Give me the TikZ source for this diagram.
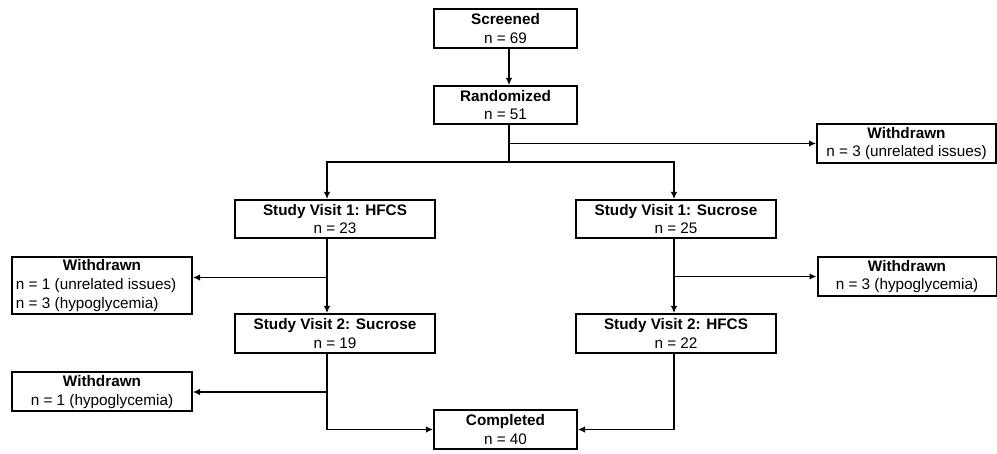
\documentclass[tikz,border=0pt]{standalone}
\usepackage{fontspec}
\setmainfont{Liberation Sans}
\usetikzlibrary{arrows.meta}
\tikzset{
  box/.style={draw, line width=2pt, inner sep=0pt, align=center,
    font=\fontsize{15.3}{18.8}\selectfont, minimum height=39pt},
  wide/.style={box, minimum width=200pt},
  mid/.style={box, minimum width=143pt},
  wdbox/.style={box, minimum width=179pt},
  conn/.style={line width=1.8pt},
  arr/.style={conn, -{Latex[length=7pt,width=6.5pt]}}
}
\begin{document}
\begin{tikzpicture}[x=1pt, y=-1pt]
\useasboundingbox (0,0) rectangle (997,454);

\node[mid] (scr) at (505.5,28.5) {\textbf{Screened}\\n = 69};
\node[mid, minimum height=38pt] (rand) at (505.5,105) {\textbf{Randomized}\\n = 51};
\node[wdbox] (wd1) at (906.5,143.5) {\textbf{Withdrawn}\\n = 3 (unrelated issues)};
\node[wide, minimum height=38pt] (hf1) at (335,219) {\textbf{Study Visit 1: HFCS}\\n = 23};
\node[wide, minimum height=38pt] (su1) at (676,219) {\textbf{Study Visit 1: Sucrose}\\n = 25};
\node[box, minimum width=180pt, minimum height=57pt, align=left] (wdL) at (102,285.5)
  {\makebox[172pt]{\textbf{Withdrawn}}\\n = 1 (unrelated issues)\\n = 3 (hypoglycemia)};
\node[wdbox] (wdR) at (907,276.5) {\textbf{Withdrawn}\\n = 3 (hypoglycemia)};
\node[wide] (sv2s) at (335,333.5) {\textbf{Study Visit 2: Sucrose}\\n = 19};
\node[wide] (sv2h) at (676,333.5) {\textbf{Study Visit 2: HFCS}\\n = 22};
\node[box, minimum width=180pt] (wdB) at (102,392) {\textbf{Withdrawn}\\n = 1 (hypoglycemia)};
\node[mid] (comp) at (505.5,429.5) {\textbf{Completed}\\n = 40};

\coordinate (tx) at (509,0);
\coordinate (lx) at (327,0);
\coordinate (rx) at (674,0);
\coordinate (split) at (509,162);
\coordinate (bL) at (327,277.5);

\draw[arr] (scr.south -| tx) -- (rand.north -| tx);
\draw[conn] (rand.south -| tx) -- (split);
\draw[arr] (tx |- wd1.west) -- (wd1.west);
\draw[arr] (split) -| (lx |- hf1.north);
\draw[arr] (split) -| (rx |- su1.north);
\draw[arr] (lx |- hf1.south) -- (lx |- sv2s.north);
\draw[arr] (bL) -- (bL -| wdL.east);
\draw[arr] (rx |- su1.south) -- (rx |- sv2h.north);
\draw[arr] (rx |- wdR.west) -- (wdR.west);
\draw[arr] (lx |- sv2s.south) |- (comp.west);
\draw[arr] (rx |- sv2h.south) |- (comp.east);
\draw[arr] (lx |- wdB.east) -- (wdB.east);
\end{tikzpicture}
\end{document}
